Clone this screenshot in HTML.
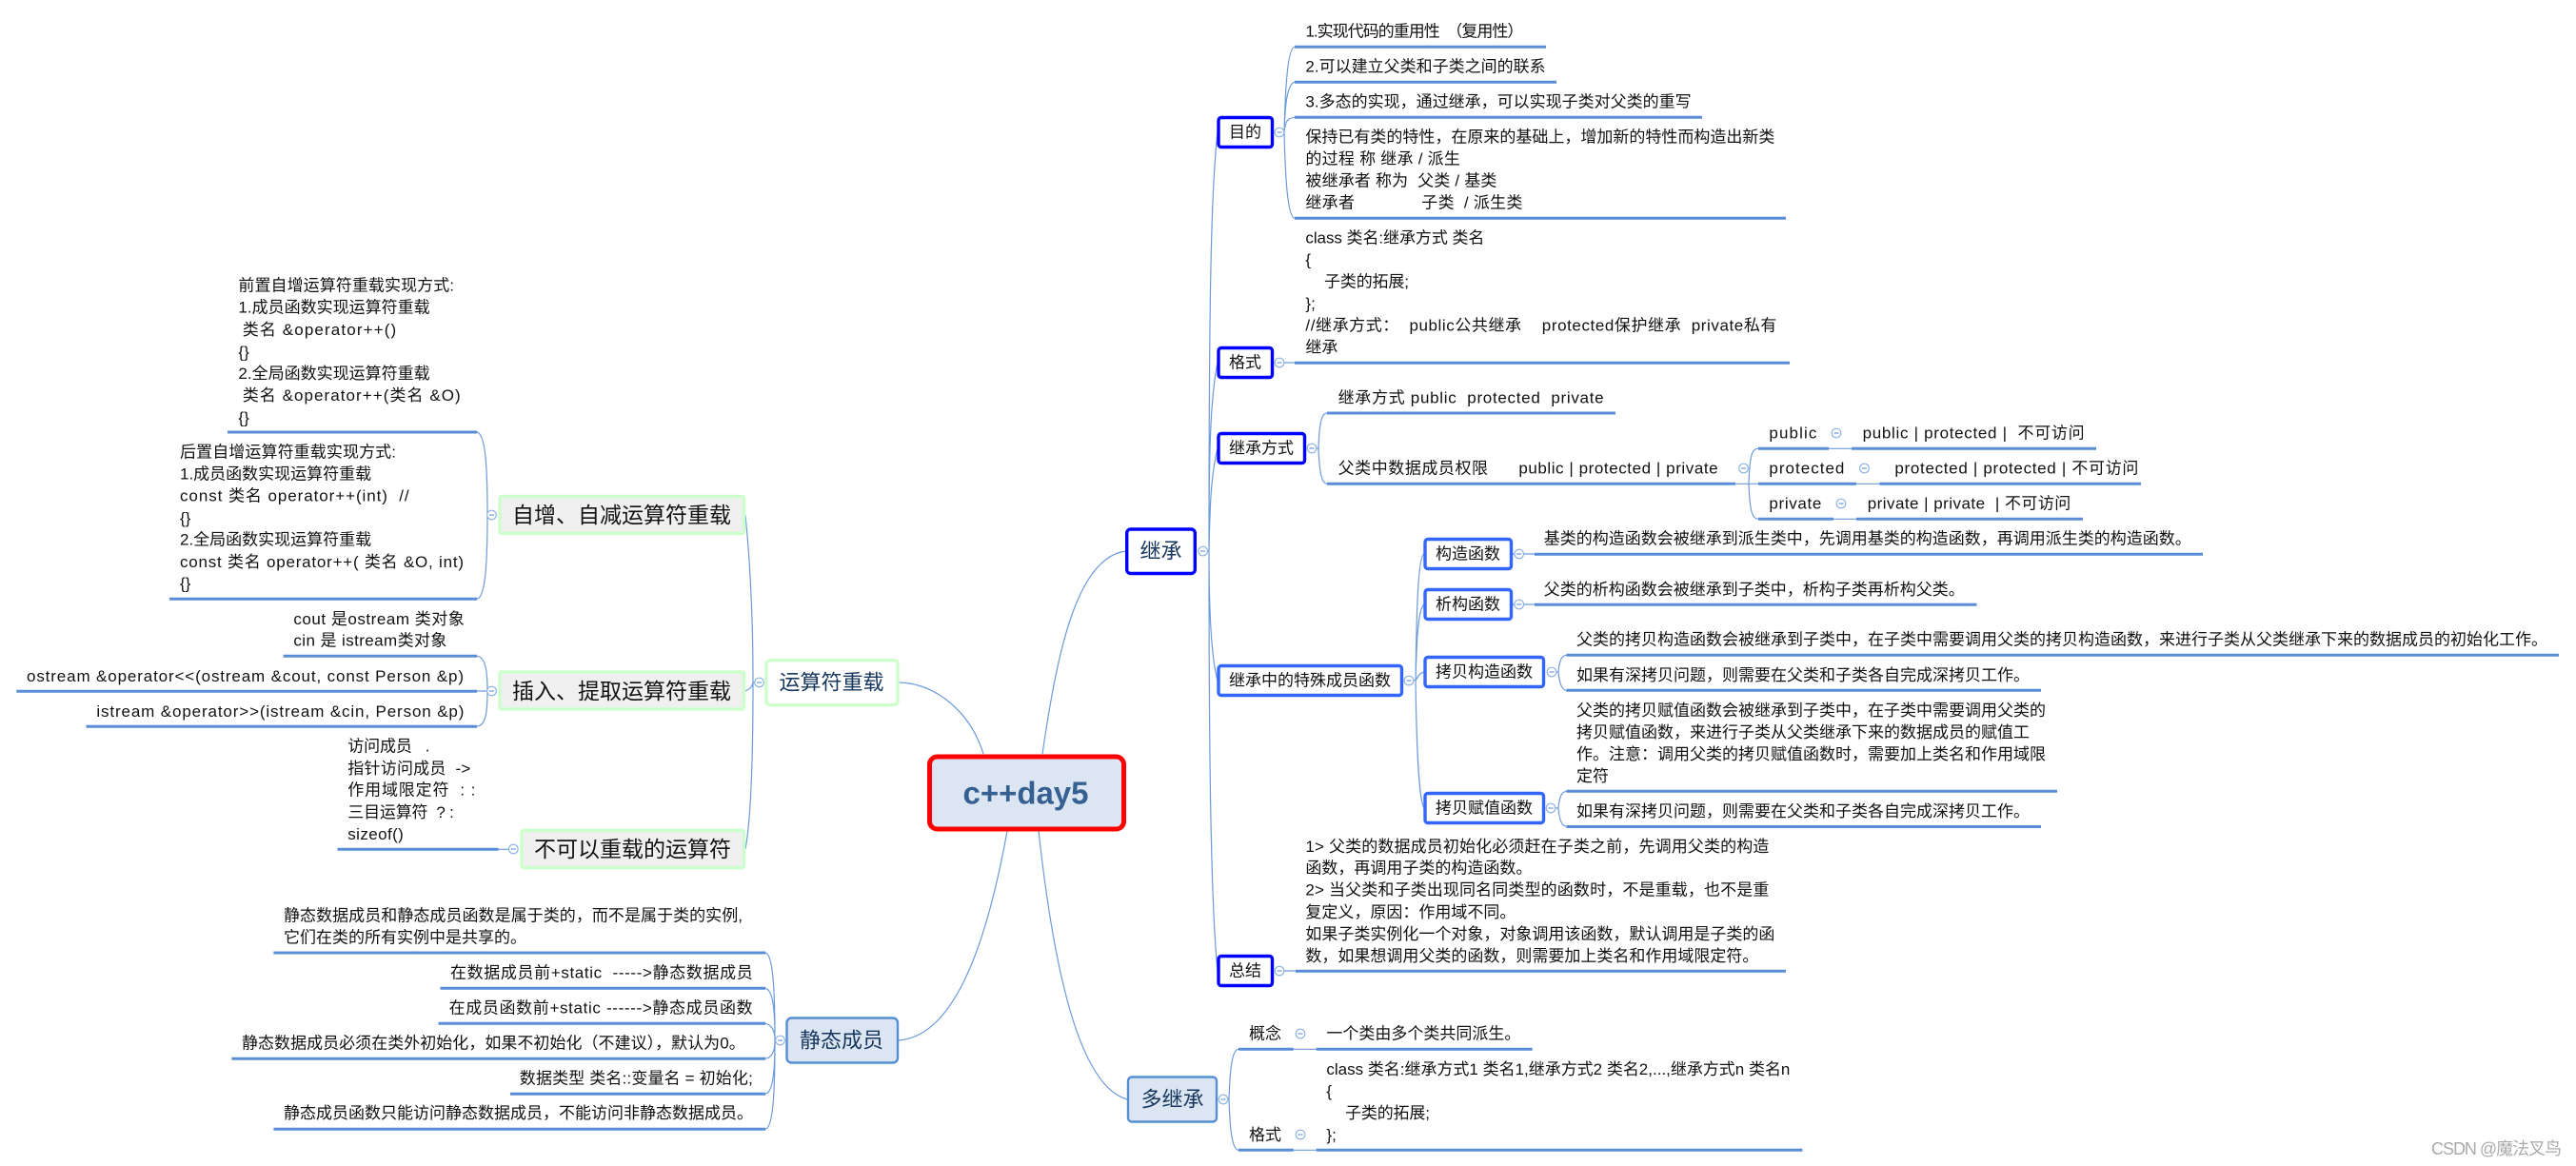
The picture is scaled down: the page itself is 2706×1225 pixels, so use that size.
<!DOCTYPE html>
<html lang="zh"><head><meta charset="utf-8"><title>c++day5</title>
<style>
html,body{margin:0;padding:0;background:#fff;width:2706px;height:1225px;overflow:hidden}
svg{display:block}
text{font-family:"Liberation Sans","Noto Sans CJK SC",sans-serif;font-size:17px;fill:#111;dominant-baseline:central;white-space:pre}
.u{fill:none;stroke:#5b8dd6;stroke-width:3}
.l{fill:none;stroke:#6c9bdb;stroke-width:1.2}
.b1{fill:#fff;stroke:#0000ff;stroke-width:3.4}
.b2{fill:#fff;stroke:#3366ff;stroke-width:3.4}
.g1{fill:#f0f0f0;stroke:#ccffcc;stroke-width:3.4}
.g2{fill:#fff;stroke:#ccffcc;stroke-width:3.4}
.s{fill:#dce6f2;stroke:#558ed5;stroke-width:2.4}
.big{font-size:23px;text-anchor:middle;fill:#111}
.nav{font-size:22px;text-anchor:middle;fill:#17375e}
.mid{text-anchor:middle}
</style></head><body>
<svg width="2706" height="1225" viewBox="0 0 2706 1225" xmlns="http://www.w3.org/2000/svg">
<defs><g id="c"><circle r="4.8" fill="#fff" stroke="#8eb4e3" stroke-width="1.2"/><path d="M-2.5 0H2.5" stroke="#6c9bdb" stroke-width="1.2"/></g></defs>

<!-- root curves -->
<path class="l" d="M944 717C985 718 1020 750 1033 792M1183 579C1130 585 1110 690 1095 792M943 1093C1000 1090 1035 1000 1058 873M1091 873C1105 1000 1130 1140 1184 1155"/>
<!-- trunk curves -->
<path class="l" d="M1268 579H1270C1270 320 1272 200 1279 139M1270 579C1270 480 1271 420 1279 381M1270 579C1271 530 1272 500 1279 471M1270 579C1270 640 1272 690 1279 715M1270 579C1270 800 1272 950 1279 1020"/>
<path class="l" d="M1349 139C1350 100 1352 50 1360 49.3M1349 139C1350 110 1352 88 1360 86.3M1349 139C1350 128 1352 124 1360 123.3M1349 139C1350 180 1352 228 1360 229.3M1349 381H1360"/>
<path class="l" d="M1383 471H1385C1386 445 1388 434 1394 434M1385 471C1386 495 1388 508 1394 508.3"/>
<path class="l" d="M1822 508.3H1837M1837 508C1838 480 1840 471 1847 471.3M1837 508C1838 535 1840 545 1847 545.3M1837 508.3H1847M1921 471.3H1945M1950 508.3H1974.5M1926 545.3H1950"/>
<path class="l" d="M1485 715H1487C1488 650 1489 585 1496 582M1487 715C1488 680 1489 640 1496 635M1487 715C1489 712 1491 707 1496 706M1487 715C1488 780 1490 840 1496 849M1588 582H1612M1588 635H1612"/>
<path class="l" d="M1635 706H1637C1638 695 1640 688.5 1645.5 688.3M1637 706C1638 716 1640 725 1645.5 725.3M1634 849H1637C1638 838 1640 832 1645.5 831.3M1637 849C1638 860 1640 868 1645.5 868.3"/>
<path class="l" d="M1344 1020H1361M1289 1155H1291C1292 1125 1294 1102.5 1301 1102.3M1291 1155C1292 1185 1294 1208 1301 1208.3M1358.7 1102.3H1382.7M1358.7 1208.3H1382.7"/>
<path class="l" d="M783 541C789 600 791 660 791 717H793M782.5 726C788 724 790 722 791 717M783 892C789 860 791 790 791 717"/>
<path class="l" d="M512 541C512 490 510 456 501 454M512 541C512 590 510 628 501 629.3M512 726C512 705 510 690 501 689.3M512 726H501M512 726C512 750 510 762 501 763.3M523.6 892.3H535"/>
<path class="l" d="M814 1093C814 1040 812 1002 804 1001M814 1093C814 1060 812 1040 804 1038.3M814 1093C814 1085 812 1077 804 1075.3M814 1093C814 1102 812 1111 804 1112.3M814 1093C814 1125 812 1148 804 1149.3M814 1093C814 1150 812 1185 804 1186.3"/>

<!-- underlines -->
<path class="u" d="M1360 49.3H1624M1360 86.3H1635M1360 123.3H1788M1360 229.3H1876M1360 381.3H1880M1394 434H1697M1394 508.3H1823M1847 471.3H1921M1945 471.3H2202M1847 508.3H1950M1974.5 508.3H2249M1847 545.3H1926M1950 545.3H2188M1612 582.3H2314M1612 635.3H2076.5M1645.5 688.3H2688M1645.5 725.3H2144M1645.5 831.3H2161M1645.5 868.5H2144M1361 1020.3H1876M1301 1102.3H1358.7M1382.7 1102.3H1609.7M1301 1208.3H1358.7M1382.7 1208.3H1893.4"/>
<path class="u" d="M239 454H501M178 629.3H501M297.6 689.3H501M17.3 726.3H501M90.5 763.3H501M354.5 892.3H523.6M287.4 1001H804M462.5 1038.3H804M460.6 1075.3H804M243.4 1112.3H804M536 1149.3H804M287.4 1186.3H804"/>

<!-- nodes -->
<rect x="976.5" y="795" width="204" height="76" rx="8" fill="#dce6f2" stroke="#ff0000" stroke-width="5"/>
<text x="1011.5" y="833" style="font-size:33px;font-weight:700;fill:#366092" textLength="132">c++day5</text>
<rect class="b1" x="1183.7" y="556" width="71.6" height="46.5" rx="4"/><text class="nav" x="1219.5" y="579">继承</text>
<rect class="s" x="1185" y="1131.5" width="93" height="47" rx="4"/><text class="nav" x="1231.5" y="1155">多继承</text>
<rect class="g2" x="805" y="693.7" width="138" height="47" rx="4"/><text class="nav" x="873.5" y="717">运算符重载</text>
<rect class="s" x="826.5" y="1069.5" width="116.5" height="47" rx="5"/><text class="nav" x="884" y="1093">静态成员</text>
<rect class="g1" x="525" y="521.5" width="256.5" height="39" rx="2"/><text class="big" x="653" y="541">自增、自减运算符重载</text>
<rect class="g1" x="525" y="706" width="256.5" height="39" rx="2"/><text class="big" x="653" y="726">插入、提取运算符重载</text>
<rect class="g1" x="548" y="872.5" width="233.5" height="39" rx="2"/><text class="big" x="664.5" y="892">不可以重载的运算符</text>

<rect class="b1" x="1280" y="123.5" width="56.5" height="31" rx="3"/><text class="mid" x="1308" y="139">目的</text>
<rect class="b1" x="1280" y="365.5" width="56.5" height="31" rx="3"/><text class="mid" x="1308" y="381">格式</text>
<rect class="b1" x="1280" y="455.5" width="90.5" height="31" rx="3"/><text class="mid" x="1325" y="471">继承方式</text>
<rect class="b2" x="1280" y="699.5" width="192.5" height="31" rx="3"/><text class="mid" x="1376" y="715">继承中的特殊成员函数</text>
<rect class="b1" x="1280" y="1004.5" width="56.5" height="31" rx="3"/><text class="mid" x="1308" y="1020">总结</text>
<rect class="b2" x="1497" y="566.5" width="90.5" height="31" rx="3"/><text class="mid" x="1542" y="582">构造函数</text>
<rect class="b2" x="1497" y="619.5" width="90.5" height="31" rx="3"/><text class="mid" x="1542" y="635">析构函数</text>
<rect class="b2" x="1497" y="690.5" width="124.5" height="31" rx="3"/><text class="mid" x="1559" y="706">拷贝构造函数</text>
<rect class="b2" x="1497" y="833.5" width="124.5" height="31" rx="3"/><text class="mid" x="1559" y="849">拷贝赋值函数</text>

<!-- collapse circles -->
<use href="#c" x="1263.6" y="579"/><use href="#c" x="1344" y="139"/><use href="#c" x="1344" y="381"/><use href="#c" x="1378" y="471"/><use href="#c" x="1480" y="715"/><use href="#c" x="1344" y="1020"/>
<use href="#c" x="1831.6" y="492"/><use href="#c" x="1929" y="455"/><use href="#c" x="1958.5" y="492"/><use href="#c" x="1934" y="529"/>
<use href="#c" x="1595.7" y="582"/><use href="#c" x="1595.7" y="635"/><use href="#c" x="1630" y="706"/><use href="#c" x="1629" y="849"/>
<use href="#c" x="1285" y="1155"/><use href="#c" x="1366" y="1086"/><use href="#c" x="1366" y="1192"/>
<use href="#c" x="797.5" y="717"/><use href="#c" x="516.5" y="541"/><use href="#c" x="516.5" y="726"/><use href="#c" x="539.3" y="892"/><use href="#c" x="819.5" y="1093"/>

<!-- right side labels -->
<text x="1371.4" y="33" textLength="229">1.实现代码的重用性  （复用性）</text>
<text x="1371.4" y="70">2.可以建立父类和子类之间的联系</text>
<text x="1371.4" y="107">3.多态的实现，通过继承，可以实现子类对父类的重写</text>
<text x="1371.4" y="144">保持已有类的特性，在原来的基础上，增加新的特性而构造出新类</text>
<text x="1371.4" y="167" textLength="162.5">的过程 称 继承 / 派生</text>
<text x="1371.4" y="190" textLength="201">被继承者 称为  父类 / 基类</text>
<text x="1371.4" y="213" textLength="228">继承者              子类  / 派生类</text>
<text x="1371.4" y="250" textLength="188">class 类名:继承方式 类名</text>
<text x="1371.4" y="273">{</text>
<text x="1391" y="296" textLength="89">子类的拓展;</text>
<text x="1371.4" y="319">};</text>
<text x="1371.4" y="342" textLength="495">//继承方式：  public公共继承    protected保护继承  private私有</text>
<text x="1371.4" y="365">继承</text>
<text x="1405.6" y="418" textLength="279">继承方式 public  protected  private</text>
<text x="1405.6" y="492" textLength="399">父类中数据成员权限      public | protected | private</text>
<text x="1858.4" y="455" textLength="50">public</text>
<text x="1956.6" y="455" textLength="233">public | protected |  不可访问</text>
<text x="1858.4" y="492" textLength="79">protected</text>
<text x="1990.4" y="492" textLength="256">protected | protected | 不可访问</text>
<text x="1858.4" y="529" textLength="55">private</text>
<text x="1961.7" y="529" textLength="213.6">private | private  | 不可访问</text>
<text x="1621.8" y="566">基类的构造函数会被继承到派生类中，先调用基类的构造函数，再调用派生类的构造函数。</text>
<text x="1621.8" y="619.3">父类的析构函数会被继承到子类中，析构子类再析构父类。</text>
<text x="1656" y="672">父类的拷贝构造函数会被继承到子类中，在子类中需要调用父类的拷贝构造函数，来进行子类从父类继承下来的数据成员的初始化工作。</text>
<text x="1656" y="709.3">如果有深拷贝问题，则需要在父类和子类各自完成深拷贝工作。</text>
<text x="1656" y="746.7">父类的拷贝赋值函数会被继承到子类中，在子类中需要调用父类的</text>
<text x="1656" y="769.5">拷贝赋值函数，来进行子类从父类继承下来的数据成员的赋值工</text>
<text x="1656" y="792.7">作。注意：调用父类的拷贝赋值函数时，需要加上类名和作用域限</text>
<text x="1656" y="815.5">定符</text>
<text x="1656" y="852.3">如果有深拷贝问题，则需要在父类和子类各自完成深拷贝工作。</text>
<text x="1371.4" y="889.3" textLength="487">1&gt; 父类的数据成员初始化必须赶在子类之前，先调用父类的构造</text>
<text x="1371.4" y="912">函数，再调用子类的构造函数。</text>
<text x="1371.4" y="935" textLength="487">2&gt; 当父类和子类出现同名同类型的函数时，不是重载，也不是重</text>
<text x="1371.4" y="958.3">复定义，原因：作用域不同。</text>
<text x="1371.4" y="981.7">如果子类实例化一个对象，对象调用该函数，默认调用是子类的函</text>
<text x="1371.4" y="1004.3">数，如果想调用父类的函数，则需要加上类名和作用域限定符。</text>
<text x="1312" y="1086">概念</text>
<text x="1393.4" y="1086">一个类由多个类共同派生。</text>
<text x="1393.4" y="1123.3" textLength="487">class 类名:继承方式1 类名1,继承方式2 类名2,...,继承方式n 类名n</text>
<text x="1393.4" y="1146.7">{</text>
<text x="1413" y="1169.3" textLength="89">子类的拓展;</text>
<text x="1312" y="1192.3">格式</text>
<text x="1393.4" y="1192.3">};</text>

<!-- left side labels -->
<text x="250.4" y="300" textLength="226.6">前置自增运算符重载实现方式:</text>
<text x="250.4" y="323">1.成员函数实现运算符重载</text>
<text x="254.7" y="346.7" textLength="161.5">类名 &amp;operator++()</text>
<text x="250.4" y="370">{}</text>
<text x="250.4" y="392.5">2.全局函数实现运算符重载</text>
<text x="254.7" y="415.5" textLength="229">类名 &amp;operator++(类名 &amp;O)</text>
<text x="250.4" y="439">{}</text>
<text x="189" y="475" textLength="227">后置自增运算符重载实现方式:</text>
<text x="189" y="498">1.成员函数实现运算符重载</text>
<text x="189" y="521" textLength="240.6">const 类名 operator++(int)  //</text>
<text x="189" y="544.5">{}</text>
<text x="189" y="567">2.全局函数实现运算符重载</text>
<text x="189" y="590.5" textLength="298">const 类名 operator++( 类名 &amp;O, int)</text>
<text x="189" y="613">{}</text>
<text x="308.4" y="650.3" textLength="179.4">cout 是ostream 类对象</text>
<text x="308.4" y="673" textLength="161">cin 是 istream类对象</text>
<text x="28" y="710.3" textLength="459">ostream &amp;operator&lt;&lt;(ostream &amp;cout, const Person &amp;p)</text>
<text x="101.4" y="747.3" textLength="386">istream &amp;operator&gt;&gt;(istream &amp;cin, Person &amp;p)</text>
<text x="365.3" y="784" textLength="86">访问成员   .</text>
<text x="365.3" y="807.3" textLength="129">指针访问成员  -&gt;</text>
<text x="365.3" y="830" textLength="134">作用域限定符  : :</text>
<text x="365.3" y="853.3" textLength="111.6">三目运算符  ? :</text>
<text x="365.3" y="876.7" textLength="58.5">sizeof()</text>
<text x="298" y="962" textLength="482">静态数据成员和静态成员函数是属于类的，而不是属于类的实例,</text>
<text x="298" y="985">它们在类的所有实例中是共享的。</text>
<text x="473" y="1022" textLength="317.7">在数据成员前+static  -----&gt;静态数据成员</text>
<text x="471.6" y="1059" textLength="319">在成员函数前+static ------&gt;静态成员函数</text>
<text x="254" y="1096" textLength="528.7">静态数据成员必须在类外初始化，如果不初始化（不建议），默认为0。</text>
<text x="545.8" y="1133" textLength="245">数据类型 类名::变量名 = 初始化;</text>
<text x="298" y="1169.7">静态成员函数只能访问静态数据成员，不能访问非静态数据成员。</text>

<text x="2554" y="1207" style="font-size:18px;fill:#aaa" textLength="137">CSDN @魔法叉鸟</text>
</svg>
</body></html>
